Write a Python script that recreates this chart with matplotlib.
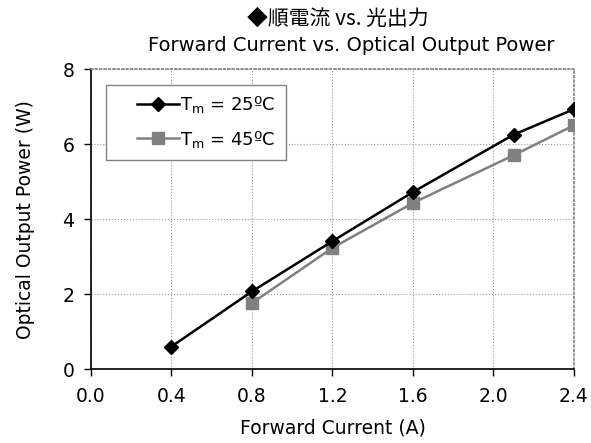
import matplotlib
matplotlib.use('Agg')
import matplotlib.pyplot as plt
from matplotlib.patches import Rectangle

# forward current (A) vs optical output power (W)
current_25 = [0.4, 0.8, 1.2, 1.6, 2.1, 2.4]
power_25 = [0.6, 2.07, 3.41, 4.72, 6.25, 6.93]
current_45 = [0.8, 1.2, 1.6, 2.1, 2.4]
power_45 = [1.76, 3.23, 4.43, 5.7, 6.5]

x_ticks = [0.0, 0.4, 0.8, 1.2, 1.6, 2.0, 2.4]
y_ticks = [0, 2, 4, 6, 8]

plt.rcParams['font.family'] = ['DejaVu Sans', 'Noto Sans CJK JP']

fig = plt.figure(figsize=(5.91, 4.43), dpi=100)
ax = fig.add_axes([0.154, 0.167, 0.817, 0.677])

ax.plot(current_25, power_25, color='black', lw=1.8, marker='D', ms=7,
        label='T$_{\\rm m}$ = 25ºC', zorder=3)
ax.plot(current_45, power_45, color='#808080', lw=1.8, marker='s', ms=9,
        label='T$_{\\rm m}$ = 45ºC', zorder=2)

ax.set_xlim(0, 2.4)
ax.set_ylim(0, 8)
ax.set_xticks(x_ticks)
ax.set_xticklabels(['%.1f' % v for v in x_ticks])
ax.set_yticks(y_ticks)
ax.tick_params(labelsize=13.5, direction='out', length=5, width=1)
ax.tick_params(axis='x', pad=8)
ax.tick_params(axis='y', pad=7)
ax.grid(True, color='#999999', linestyle=':', linewidth=0.8)

for s in ['top', 'right']:
    ax.spines[s].set_color('#808080')
    ax.spines[s].set_linestyle(':')
    ax.spines[s].set_linewidth(1.2)
for s in ['left', 'bottom']:
    ax.spines[s].set_linewidth(1.2)

ax.set_xlabel('Forward Current (A)', fontsize=13.5, labelpad=9)
ax.set_ylabel('Optical Output Power (W)', fontsize=13.5, labelpad=20)

fig.text(0.572, 0.958, '◆順電流 vs. 光出力', ha='center', va='center', fontsize=15,
         family=['Noto Sans CJK JP', 'DejaVu Sans'])
fig.text(0.595, 0.898, 'Forward Current vs. Optical Output Power', ha='center',
         va='center', fontsize=14)

# legend frame drawn separately so the box can be wider than the entries
ax.add_patch(Rectangle((0.031, 0.697), 0.373, 0.25, transform=ax.transAxes,
                       facecolor='white', edgecolor='#808080', lw=1, zorder=4))
leg = ax.legend(loc='upper right', bbox_to_anchor=(0.42, 0.977), fontsize=13,
                frameon=False, handlelength=2.3, handletextpad=0.1,
                borderpad=0.5, labelspacing=0.75)
leg.set_zorder(5)

fig.savefig('out.png', dpi=100)
